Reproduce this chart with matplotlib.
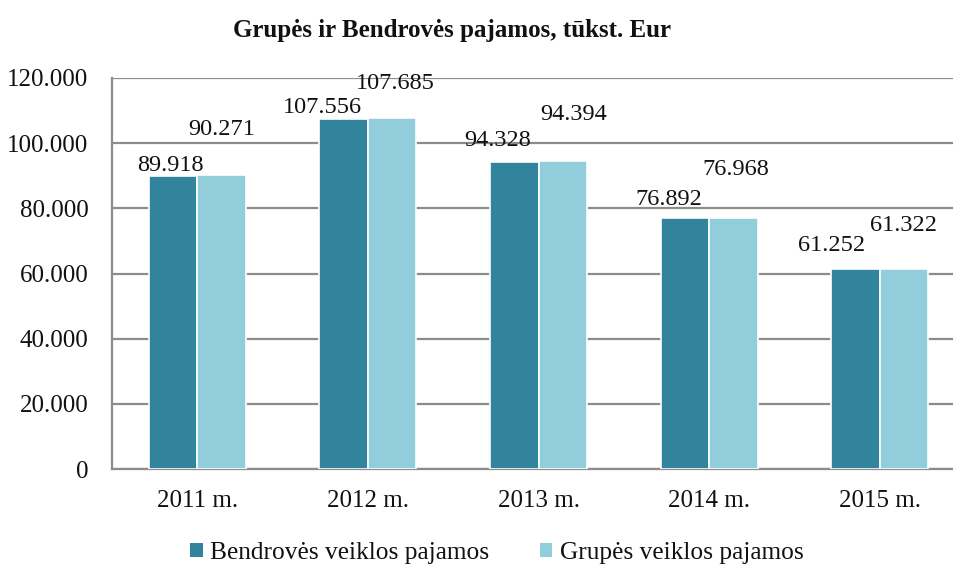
import matplotlib
matplotlib.use("Agg")
import matplotlib.pyplot as plt
from matplotlib.patches import Patch
from matplotlib.ticker import FuncFormatter, MultipleLocator
import numpy as np

categories = ["2011 m.", "2012 m.", "2013 m.", "2014 m.", "2015 m."]
bendroves = [89918, 107556, 94328, 76892, 61252]
grupes = [90271, 107685, 94394, 76968, 61322]
series_names = ["Bendrovės veiklos pajamos", "Grupės veiklos pajamos"]
title = "Grupės ir Bendrovės pajamos, tūkst. Eur"

# label offsets (points) from bar top centre to label's visual centre
off_b = [(-2.2, 9.4), (-15, 10), (-12, 17.3), (-11.5, 15.8), (-17.3, 18.7)]
off_g = [(0, 34.6), (2.2, 26.6), (7.9, 35.3), (1.4, 36.7), (0, 33.1)]

c_dark = "#31849B"
c_light = "#92CDDC"
grid_c = "#8C8C8C"

plt.rcParams['font.family'] = ['Liberation Serif', 'DejaVu Serif']

W, H = 954, 567
fig = plt.figure(figsize=(W / 100, H / 100), dpi=100)
left, right, top, bottom = 112, 965, 78, 469
ax = fig.add_axes([left / W, 1 - bottom / H, (right - left) / W, (bottom - top) / H])

x = np.arange(len(categories))
bw = 0.284
b1 = ax.bar(x - bw / 2, bendroves, bw, color=c_dark, edgecolor="white", linewidth=1.2, zorder=3)
b2 = ax.bar(x + bw / 2, grupes, bw, color=c_light, edgecolor="white", linewidth=1.2, zorder=3)

fmt = lambda v: f"{v:,.0f}".replace(",", ".")
lab_fs = 17.5
half_digit = lab_fs * 0.33
for bars, vals, offs in ((b1, bendroves, off_b), (b2, grupes, off_g)):
    for rect, v, (dx, dy) in zip(bars, vals, offs):
        ax.annotate(fmt(v), (rect.get_x() + rect.get_width() / 2, v),
                    xytext=(dx, dy - half_digit), textcoords="offset points",
                    ha="center", va="baseline", fontsize=lab_fs, color="#111111", zorder=4)

ax.set_xlim(-0.5, len(categories) - 0.5)
ax.set_ylim(0, 120000)
ax.yaxis.set_major_locator(MultipleLocator(20000))
ax.yaxis.set_major_formatter(FuncFormatter(lambda v, p: fmt(v)))
ax.set_xticks(x)
ax.set_xticklabels(categories)
ax.tick_params(axis="y", length=0, pad=17, labelsize=18, labelcolor="#111111")
ax.tick_params(axis="x", length=0, pad=15, labelsize=18, labelcolor="#111111")
ax.yaxis.grid(True, color=grid_c, linewidth=1.6, zorder=0)
ax.set_axisbelow(True)
for s in ("top", "right"):
    ax.spines[s].set_visible(False)
for s in ("left", "bottom"):
    ax.spines[s].set_color(grid_c)
    ax.spines[s].set_linewidth(1.6)

fig.text(452 / W, 1 - 30 / H, title, ha="center", va="center",
         fontsize=18, fontweight="bold", color="#111111")

handles = [Patch(facecolor=c_dark, edgecolor="none"), Patch(facecolor=c_light, edgecolor="none")]
fig.legend(handles, series_names, loc="center", bbox_to_anchor=(497 / W, 1 - 553 / H),
           ncol=2, frameon=False, fontsize=18.3, handlelength=0.48, handleheight=0.48,
           handletextpad=0.3, columnspacing=2.0, labelcolor="#111111")

fig.savefig("out.png", dpi=100)
